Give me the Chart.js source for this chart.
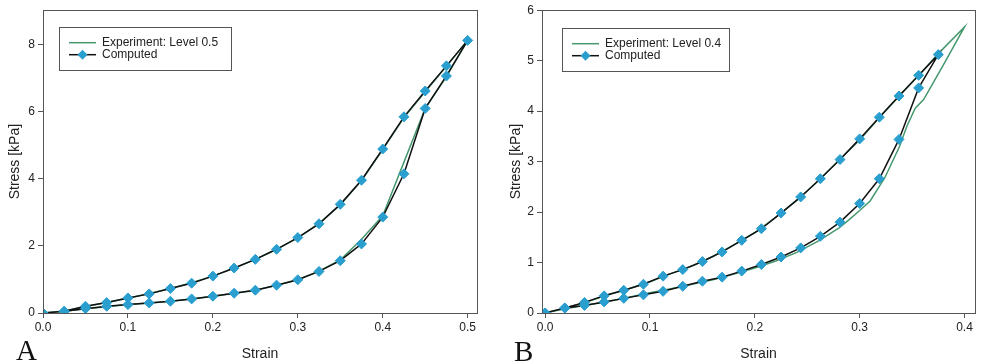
<!DOCTYPE html>
<html>
<head>
<meta charset="utf-8">
<script src="https://cdn.jsdelivr.net/npm/chart.js@4.4.1/dist/chart.umd.min.js"></script>
<style>
  body { margin: 0; background: #fff; width: 981px; height: 364px; overflow: hidden; }
  .panel { position: absolute; top: 0; height: 364px; }
  .tag { position: absolute; font-family: "Liberation Serif", "DejaVu Serif", serif; font-size: 29px; color: #111; line-height: 1; }
</style>
</head>
<body>
<div class="panel" style="left:0;width:490px"><canvas id="chartA"></canvas></div>
<div class="panel" style="left:490px;width:491px"><canvas id="chartB"></canvas></div>
<div class="tag" style="left:16px;top:336px">A</div>
<div class="tag" style="left:514px;top:337px">B</div>
<script>
// panel A: computed points (strain step 0.025)
var strainA = [0, 0.025, 0.05, 0.075, 0.1, 0.125, 0.15, 0.175, 0.2, 0.225, 0.25, 0.275, 0.3, 0.325, 0.35, 0.375, 0.4, 0.425, 0.45, 0.475, 0.5];
var upperA = [0, 0.05, 0.2, 0.31, 0.45, 0.57, 0.73, 0.89, 1.1, 1.34, 1.6, 1.9, 2.25, 2.66, 3.24, 3.96, 4.89, 5.85, 6.62, 7.37, 8.13];
var lowerA = [0, 0.05, 0.13, 0.2, 0.25, 0.3, 0.35, 0.42, 0.5, 0.59, 0.68, 0.83, 0.99, 1.24, 1.56, 2.06, 2.86, 4.15, 6.1, 7.07, 8.13];
// panel A: experiment loop
var expStrainA = [0, 0.025, 0.05, 0.075, 0.1, 0.125, 0.15, 0.175, 0.2, 0.225, 0.25, 0.275, 0.3, 0.325, 0.35, 0.375, 0.4, 0.425, 0.45, 0.475, 0.5,
                  0.475, 0.45, 0.425, 0.4, 0.375, 0.35, 0.325, 0.3, 0.275, 0.25, 0.225, 0.2, 0.175, 0.15, 0.125, 0.1, 0.075, 0.05, 0.025, 0];
var expStressA = [0, 0.06, 0.19, 0.31, 0.44, 0.58, 0.73, 0.9, 1.1, 1.33, 1.6, 1.9, 2.24, 2.67, 3.22, 3.95, 4.87, 5.83, 6.6, 7.36, 8.13,
                  7.05, 6.1, 4.5, 2.9, 2.2, 1.58, 1.25, 0.99, 0.83, 0.68, 0.59, 0.5, 0.42, 0.35, 0.3, 0.25, 0.19, 0.13, 0.05, 0];

// panel B: computed points
var strainB = [0, 0.01875, 0.0375, 0.05625, 0.075, 0.09375, 0.1125, 0.13125, 0.15, 0.16875, 0.1875, 0.20625, 0.225, 0.24375, 0.2625, 0.28125, 0.3, 0.31875, 0.3375, 0.35625, 0.375];
var upperB = [0, 0.1, 0.21, 0.34, 0.45, 0.57, 0.73, 0.86, 1.02, 1.21, 1.44, 1.67, 1.98, 2.3, 2.66, 3.04, 3.45, 3.88, 4.3, 4.71, 5.12];
var lowerB = [0, 0.1, 0.15, 0.22, 0.29, 0.36, 0.43, 0.53, 0.63, 0.71, 0.83, 0.96, 1.11, 1.29, 1.52, 1.8, 2.17, 2.66, 3.44, 4.46, 5.12];
// panel B: experiment loop
var expStrainB = [0, 0.02, 0.04, 0.06, 0.08, 0.1, 0.12, 0.14, 0.16, 0.18, 0.2, 0.22, 0.24, 0.26, 0.28, 0.3, 0.32, 0.34, 0.36, 0.375, 0.4,
                  0.38, 0.361, 0.353, 0.345, 0.338, 0.324, 0.31, 0.3, 0.29, 0.28, 0.26, 0.24, 0.22, 0.2, 0.18, 0.16, 0.14, 0.12, 0.1, 0.08, 0.06, 0.04, 0.02, 0];
var expStressB = [0, 0.1, 0.22, 0.36, 0.48, 0.62, 0.78, 0.93, 1.12, 1.35, 1.59, 1.9, 2.23, 2.61, 3.02, 3.43, 3.9, 4.35, 4.79, 5.14, 5.67,
                  4.92, 4.23, 4.06, 3.7, 3.3, 2.68, 2.22, 2.03, 1.85, 1.68, 1.42, 1.2, 1.03, 0.89, 0.77, 0.66, 0.57, 0.48, 0.4, 0.31, 0.23, 0.16, 0.09, 0];

var xTicksA = [0, 0.1, 0.2, 0.3, 0.4, 0.5];
var yTicksA = [0, 2, 4, 6, 8];
var xTicksB = [0, 0.1, 0.2, 0.3, 0.4];
var yTicksB = [0, 1, 2, 3, 4, 5, 6];

var expColor = '#46996f';
var markColor = '#2a9fcf';
var axisColor = '#555';
var fontFamily = '"Liberation Sans", Arial, sans-serif';
var tickFont = { family: fontFamily, size: 12 };
var titleFont = { family: fontFamily, size: 14 };

function pts(xs, ys) {
  return xs.map((x, i) => ({x: x, y: ys[i]}));
}

// loop: up the upper branch, back down the lower one
function loop(xs, up, low) {
  var p = pts(xs, up);
  for (let i = xs.length - 2; i >= 0; i--) p.push({x: xs[i], y: low[i]});
  return p;
}

// frame around the plot area + legend box inside it
const frameLegend = {
  id: 'frameLegend',
  afterDraw(chart, args, opts) {
    const ctx = chart.ctx, a = chart.chartArea;
    ctx.save();
    ctx.strokeStyle = axisColor;
    ctx.lineWidth = 1;
    ctx.strokeRect(Math.round(a.left) + 0.5, Math.round(a.top) + 0.5, Math.round(a.right - a.left), Math.round(a.bottom - a.top));

    const bx = a.left + opts.dx, by = a.top + opts.dy;
    ctx.fillStyle = '#fff';
    ctx.fillRect(bx, by, opts.w, opts.h);
    ctx.strokeStyle = '#555';
    ctx.strokeRect(Math.round(bx) + 0.5, Math.round(by) + 0.5, opts.w, opts.h);

    ctx.font = '12px ' + fontFamily;
    ctx.textBaseline = 'middle';
    chart.data.datasets.forEach((ds, i) => {
      const y = by + 15.5 + i * 12;
      const x0 = bx + 10, x1 = bx + 37;
      ctx.strokeStyle = ds.borderColor;
      ctx.lineWidth = ds.borderWidth;
      ctx.beginPath();
      ctx.moveTo(x0, y);
      ctx.lineTo(x1, y);
      ctx.stroke();
      if (ds.pointRadius > 0) {
        const r = 5, cx = (x0 + x1) / 2;
        ctx.fillStyle = ds.pointBackgroundColor;
        ctx.beginPath();
        ctx.moveTo(cx, y - r); ctx.lineTo(cx + r, y); ctx.lineTo(cx, y + r); ctx.lineTo(cx - r, y);
        ctx.closePath();
        ctx.fill();
      }
      ctx.fillStyle = '#222';
      ctx.fillText(ds.label, bx + 43, y);
    });
    ctx.restore();
  }
};

function makeChart(id, cfg) {
  const fixTicks = list => scale => { scale.ticks = list.map(v => ({value: v})); };
  return new Chart(document.getElementById(id), {
    type: 'scatter',
    data: {
      datasets: [{
        label: cfg.expLabel,
        data: cfg.exp,
        showLine: true,
        borderColor: expColor,
        borderWidth: 1.5,
        pointRadius: 0,
        tension: 0,
        order: 1
      }, {
        label: 'Computed',
        data: cfg.comp,
        showLine: true,
        borderColor: '#111',
        borderWidth: 1.5,
        pointStyle: 'rectRot',
        pointRadius: 5,
        pointBackgroundColor: markColor,
        pointBorderColor: markColor,
        pointBorderWidth: 1,
        tension: 0,
        order: 0
      }]
    },
    options: {
      responsive: true,
      maintainAspectRatio: false,
      animation: false,
      layout: { padding: cfg.padding },
      plugins: {
        legend: { display: false },
        tooltip: { enabled: false },
        frameLegend: cfg.legend
      },
      scales: {
        x: {
          type: 'linear',
          min: cfg.xMin, max: cfg.xMax,
          afterBuildTicks: fixTicks(cfg.xTicks),
          afterFit: s => { s.height = 50; },
          grid: { drawOnChartArea: false, drawTicks: true, tickLength: 5, color: axisColor },
          border: { display: true, color: axisColor },
          ticks: { font: tickFont, color: '#222', padding: 2, maxRotation: 0, callback: v => v.toFixed(1) },
          title: { display: true, text: 'Strain', color: '#222', padding: { top: 0, bottom: 0 }, font: titleFont }
        },
        y: {
          min: 0, max: cfg.yMax,
          afterBuildTicks: fixTicks(cfg.yTicks),
          afterFit: s => { s.width = cfg.yWidth; },
          grid: { drawOnChartArea: false, drawTicks: true, tickLength: 5, color: axisColor },
          border: { display: true, color: axisColor },
          ticks: { font: tickFont, color: '#222', padding: 3 },
          title: { display: true, text: 'Stress [kPa]', color: '#222', padding: { top: 3, bottom: 0 }, font: titleFont }
        }
      }
    },
    plugins: [frameLegend]
  });
}

makeChart('chartA', {
  expLabel: 'Experiment: Level 0.5',
  exp: pts(expStrainA, expStressA),
  comp: loop(strainA, upperA, lowerA),
  xMin: 0, xMax: 0.511, yMax: 9.03,
  xTicks: xTicksA, yTicks: yTicksA,
  yWidth: 39,
  padding: { left: 4, top: 10, right: 13, bottom: 1 },
  legend: { dx: 16, dy: 17, w: 172, h: 43 }
});

makeChart('chartB', {
  expLabel: 'Experiment: Level 0.4',
  exp: pts(expStrainB, expStressB),
  comp: loop(strainB, upperB, lowerB),
  xMin: -0.003, xMax: 0.41, yMax: 6,
  xTicks: xTicksB, yTicks: yTicksB,
  yWidth: 37,
  padding: { left: 15, top: 10, right: 2, bottom: 1 },
  legend: { dx: 20, dy: 18, w: 167, h: 43 }
});
</script>
</body>
</html>
